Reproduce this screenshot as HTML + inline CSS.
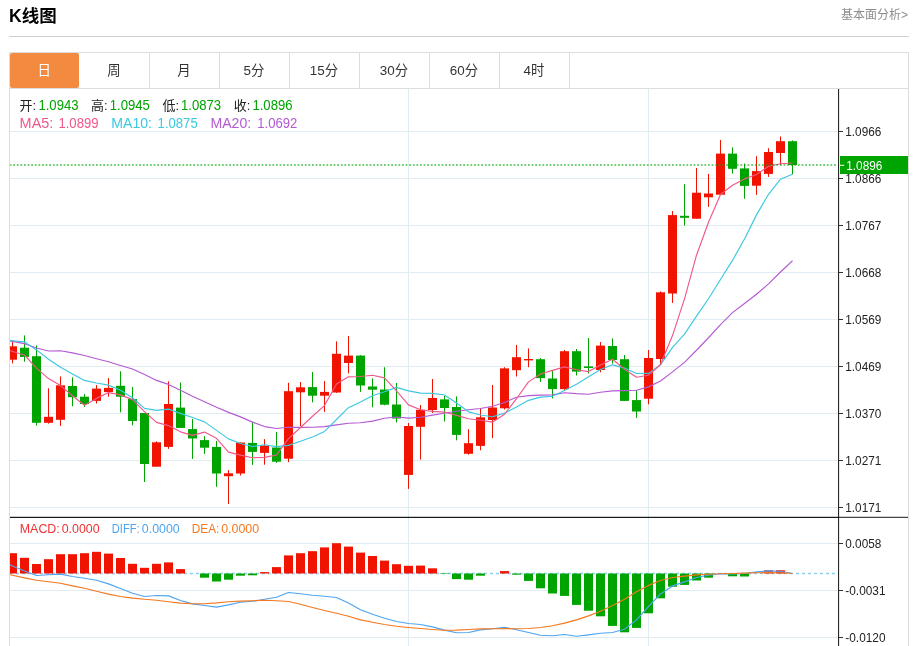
<!DOCTYPE html>
<html lang="zh-CN"><head><meta charset="utf-8"><title>K线图</title>
<style>
html,body{margin:0;padding:0;background:#fff;}
body{width:914px;height:646px;position:relative;overflow:hidden;font-family:"Liberation Sans","Noto Sans CJK SC",sans-serif;color:#333;}
.title{position:absolute;left:9px;top:4px;font-size:17.5px;font-weight:bold;color:#000;line-height:24px;}
.more{position:absolute;right:6px;top:7px;font-size:12px;color:#8c8c8c;line-height:16px;}
.hr{position:absolute;left:9px;top:36px;width:900px;height:1px;background:#d0d0d0;}
.tabs{position:absolute;left:9px;top:52px;width:898px;height:35px;border:1px solid #ddd;box-sizing:content-box;}
.tab{position:absolute;top:0;width:68px;padding-right:1px;height:35px;border-right:1px solid #ddd;text-align:center;line-height:36px;font-size:13.4px;color:#333;}
.tab.on{background:#f28b3f;color:#fff;border-right:0;width:68.3px;border-radius:2px;}
</style></head><body>
<div class="title">K线图</div>
<div class="more">基本面分析&gt;</div>
<div class="hr"></div>
<svg width="914" height="646" viewBox="0 0 914 646" style="position:absolute;left:0;top:0" font-family="'Liberation Sans','Noto Sans CJK SC',sans-serif">
<defs><clipPath id="cp"><rect x="10" y="88" width="829" height="558"/></clipPath></defs>
<rect x="10" y="131" width="829" height="1" fill="#e1ebf2"/>
<rect x="10" y="178" width="829" height="1" fill="#e1ebf2"/>
<rect x="10" y="225" width="829" height="1" fill="#e1ebf2"/>
<rect x="10" y="272" width="829" height="1" fill="#e1ebf2"/>
<rect x="10" y="319" width="829" height="1" fill="#e1ebf2"/>
<rect x="10" y="366" width="829" height="1" fill="#e1ebf2"/>
<rect x="10" y="413" width="829" height="1" fill="#e1ebf2"/>
<rect x="10" y="460" width="829" height="1" fill="#e1ebf2"/>
<rect x="10" y="507" width="829" height="1" fill="#e1ebf2"/>
<rect x="10" y="543" width="829" height="1" fill="#e1ebf2"/>
<rect x="10" y="590" width="829" height="1" fill="#e1ebf2"/>
<rect x="10" y="637" width="829" height="1" fill="#e1ebf2"/>
<rect x="408" y="88" width="1" height="558" fill="#e1ebf2"/>
<rect x="648" y="88" width="1" height="558" fill="#e1ebf2"/>
<rect x="9" y="88" width="1" height="558" fill="#ddd"/>
<rect x="908" y="88" width="1" height="558" fill="#ddd"/>
<line x1="10" y1="573.5" x2="836" y2="573.5" stroke="#8ccff0" stroke-width="1.3" stroke-dasharray="3 3"/>
<g clip-path="url(#cp)">
<rect x="8" y="553.2" width="9" height="20.3" fill="#f01400"/>
<rect x="20" y="557.8" width="9" height="15.7" fill="#f01400"/>
<rect x="32" y="564" width="9" height="9.5" fill="#f01400"/>
<rect x="44" y="559.2" width="9" height="14.3" fill="#f01400"/>
<rect x="56" y="554.2" width="9" height="19.3" fill="#f01400"/>
<rect x="68" y="554.2" width="9" height="19.3" fill="#f01400"/>
<rect x="80" y="553.2" width="9" height="20.3" fill="#f01400"/>
<rect x="92" y="551.8" width="9" height="21.7" fill="#f01400"/>
<rect x="104" y="553.6" width="9" height="19.9" fill="#f01400"/>
<rect x="116" y="558" width="9" height="15.5" fill="#f01400"/>
<rect x="128" y="563.8" width="9" height="9.7" fill="#f01400"/>
<rect x="140" y="567.8" width="9" height="5.7" fill="#f01400"/>
<rect x="152" y="563.8" width="9" height="9.7" fill="#f01400"/>
<rect x="164" y="562.4" width="9" height="11.1" fill="#f01400"/>
<rect x="176" y="569.1" width="9" height="4.4" fill="#f01400"/>
<rect x="200" y="573.5" width="9" height="4.2" fill="#00a400"/>
<rect x="212" y="573.5" width="9" height="8" fill="#00a400"/>
<rect x="224" y="573.5" width="9" height="6.2" fill="#00a400"/>
<rect x="236" y="573.5" width="9" height="2.2" fill="#00a400"/>
<rect x="248" y="573.5" width="9" height="1.8" fill="#00a400"/>
<rect x="260" y="572.1" width="9" height="1.4" fill="#f01400"/>
<rect x="272" y="567.1" width="9" height="6.4" fill="#f01400"/>
<rect x="284" y="555.4" width="9" height="18.1" fill="#f01400"/>
<rect x="296" y="553.2" width="9" height="20.3" fill="#f01400"/>
<rect x="308" y="551.2" width="9" height="22.3" fill="#f01400"/>
<rect x="320" y="547.4" width="9" height="26.1" fill="#f01400"/>
<rect x="332" y="543.2" width="9" height="30.3" fill="#f01400"/>
<rect x="344" y="546.6" width="9" height="26.9" fill="#f01400"/>
<rect x="356" y="552.6" width="9" height="20.9" fill="#f01400"/>
<rect x="368" y="556" width="9" height="17.5" fill="#f01400"/>
<rect x="380" y="560.6" width="9" height="12.9" fill="#f01400"/>
<rect x="392" y="564.2" width="9" height="9.3" fill="#f01400"/>
<rect x="404" y="565.8" width="9" height="7.7" fill="#f01400"/>
<rect x="416" y="565.6" width="9" height="7.9" fill="#f01400"/>
<rect x="428" y="568.3" width="9" height="5.2" fill="#f01400"/>
<rect x="440" y="573.5" width="9" height="0.5" fill="#00a400"/>
<rect x="452" y="573.5" width="9" height="5.6" fill="#00a400"/>
<rect x="464" y="573.5" width="9" height="6.2" fill="#00a400"/>
<rect x="476" y="573.5" width="9" height="2.2" fill="#00a400"/>
<rect x="500" y="571.1" width="9" height="2.4" fill="#f01400"/>
<rect x="512" y="573.5" width="9" height="1.2" fill="#00a400"/>
<rect x="524" y="573.5" width="9" height="7.4" fill="#00a400"/>
<rect x="536" y="573.5" width="9" height="14.8" fill="#00a400"/>
<rect x="548" y="573.5" width="9" height="20" fill="#00a400"/>
<rect x="560" y="573.5" width="9" height="22.4" fill="#00a400"/>
<rect x="572" y="573.5" width="9" height="31.4" fill="#00a400"/>
<rect x="584" y="573.5" width="9" height="37.2" fill="#00a400"/>
<rect x="596" y="573.5" width="9" height="42.8" fill="#00a400"/>
<rect x="608" y="573.5" width="9" height="52.4" fill="#00a400"/>
<rect x="620" y="573.5" width="9" height="58.8" fill="#00a400"/>
<rect x="632" y="573.5" width="9" height="54.4" fill="#00a400"/>
<rect x="644" y="573.5" width="9" height="39.8" fill="#00a400"/>
<rect x="656" y="573.5" width="9" height="24.8" fill="#00a400"/>
<rect x="668" y="573.5" width="9" height="13.2" fill="#00a400"/>
<rect x="680" y="573.5" width="9" height="11.4" fill="#00a400"/>
<rect x="692" y="573.5" width="9" height="7" fill="#00a400"/>
<rect x="704" y="573.5" width="9" height="4.2" fill="#00a400"/>
<rect x="728" y="573.5" width="9" height="2.8" fill="#00a400"/>
<rect x="740" y="573.5" width="9" height="3" fill="#00a400"/>
<rect x="764" y="570.3" width="9" height="3.2" fill="#f01400"/>
<rect x="776" y="570.3" width="9" height="3.2" fill="#f01400"/>
<path d="M0.5 561 L12.5 566 L24.5 571 L36.5 575.5 L48.5 574.7 L60.5 574.1 L72.5 576.5 L84.5 578.3 L96.5 580.3 L108.5 583.9 L120.5 588.5 L132.5 593.3 L144.5 596.5 L156.5 595.5 L168.5 595.9 L180.5 600.5 L192.5 603.9 L204.5 605.5 L216.5 607.1 L228.5 604.9 L240.5 602.3 L252.5 601.3 L264.5 599.3 L276.5 597.3 L288.5 592.5 L300.5 593.7 L312.5 595.3 L324.5 596.3 L336.5 597.5 L348.5 603.1 L360.5 609.7 L372.5 614.3 L384.5 618.3 L396.5 621.5 L408.5 623.5 L420.5 624.5 L432.5 626.9 L444.5 630.1 L456.5 632.7 L468.5 632.5 L480.5 629.9 L492.5 628.7 L504.5 627.3 L516.5 629.7 L528.5 632.5 L540.5 635.3 L552.5 635.7 L564.5 634.5 L576.5 636.3 L588.5 634.9 L600.5 633.3 L612.5 632.5 L624.5 629.3 L636.5 619.9 L648.5 606.5 L660.5 593.9 L672.5 585.9 L684.5 581.9 L696.5 577.5 L708.5 575.3 L720.5 573.7 L732.5 573.9 L744.5 573.5 L756.5 571.9 L768.5 570.9 L780.5 571.3 L792.5 573.5" fill="none" stroke="#4ea5f0" stroke-width="1.15" stroke-linejoin="round"/>
<path d="M0.5 572.7 L12.5 575.3 L24.5 577.9 L36.5 580.3 L48.5 581.7 L60.5 583.3 L72.5 585.9 L84.5 588.3 L96.5 591.3 L108.5 594.1 L120.5 596.5 L132.5 598.1 L144.5 599.3 L156.5 600.3 L168.5 601.7 L180.5 603.1 L192.5 603.7 L204.5 603.7 L216.5 602.9 L228.5 601.7 L240.5 601.1 L252.5 600.7 L264.5 600.3 L276.5 600.7 L288.5 601.5 L300.5 604.3 L312.5 607.5 L324.5 610.5 L336.5 613.3 L348.5 616.3 L360.5 619.9 L372.5 622.3 L384.5 624.5 L396.5 626.3 L408.5 627.5 L420.5 628.5 L432.5 629.5 L444.5 630.3 L456.5 630.1 L468.5 629.5 L480.5 628.9 L492.5 628.7 L504.5 628.5 L516.5 628.7 L528.5 628.5 L540.5 627.5 L552.5 625.7 L564.5 623.1 L576.5 619.9 L588.5 615.9 L600.5 611.2 L612.5 605.6 L624.5 599.2 L636.5 591.8 L648.5 585.4 L660.5 580.5 L672.5 577.5 L684.5 576.1 L696.5 574.9 L708.5 574.3 L720.5 573.7 L732.5 573.5 L744.5 573.1 L756.5 572.7 L768.5 572.5 L780.5 572.7 L792.5 573.5" fill="none" stroke="#f5781e" stroke-width="1.15" stroke-linejoin="round"/>
<rect x="12" y="340.7" width="1" height="22.7" fill="#f01400"/>
<rect x="8" y="346.3" width="9" height="13.4" fill="#f01400"/>
<rect x="24" y="335.4" width="1" height="26.3" fill="#00a400"/>
<rect x="20" y="347.7" width="9" height="9.2" fill="#00a400"/>
<rect x="36" y="345.4" width="1" height="80.2" fill="#00a400"/>
<rect x="32" y="356.2" width="9" height="66.6" fill="#00a400"/>
<rect x="48" y="388.3" width="1" height="35.3" fill="#f01400"/>
<rect x="44" y="416.8" width="9" height="6" fill="#f01400"/>
<rect x="60" y="376.4" width="1" height="49.5" fill="#f01400"/>
<rect x="56" y="385.3" width="9" height="34.5" fill="#f01400"/>
<rect x="72" y="377.4" width="1" height="28.9" fill="#00a400"/>
<rect x="68" y="386" width="9" height="11.2" fill="#00a400"/>
<rect x="84" y="394" width="1" height="13" fill="#00a400"/>
<rect x="80" y="396.7" width="9" height="7.3" fill="#00a400"/>
<rect x="96" y="385.1" width="1" height="18.4" fill="#f01400"/>
<rect x="92" y="388.6" width="9" height="12.3" fill="#f01400"/>
<rect x="108" y="378.1" width="1" height="18.6" fill="#f01400"/>
<rect x="104" y="387.9" width="9" height="4.2" fill="#f01400"/>
<rect x="120" y="371.3" width="1" height="41" fill="#00a400"/>
<rect x="116" y="385.8" width="9" height="10.9" fill="#00a400"/>
<rect x="132" y="387" width="1" height="38.3" fill="#00a400"/>
<rect x="128" y="399" width="9" height="22" fill="#00a400"/>
<rect x="144" y="413" width="1" height="69" fill="#00a400"/>
<rect x="140" y="413" width="9" height="51" fill="#00a400"/>
<rect x="156" y="441.3" width="1" height="25.4" fill="#f01400"/>
<rect x="152" y="442.3" width="9" height="24.4" fill="#f01400"/>
<rect x="168" y="381.4" width="1" height="67.5" fill="#f01400"/>
<rect x="164" y="404" width="9" height="42.9" fill="#f01400"/>
<rect x="180" y="382.6" width="1" height="45.3" fill="#00a400"/>
<rect x="176" y="407.6" width="9" height="20.3" fill="#00a400"/>
<rect x="192" y="418.9" width="1" height="40" fill="#00a400"/>
<rect x="188" y="429.1" width="9" height="9.4" fill="#00a400"/>
<rect x="204" y="436.1" width="1" height="17.8" fill="#00a400"/>
<rect x="200" y="440.1" width="9" height="7.6" fill="#00a400"/>
<rect x="216" y="440.9" width="1" height="45.9" fill="#00a400"/>
<rect x="212" y="446.9" width="9" height="26.6" fill="#00a400"/>
<rect x="228" y="470.1" width="1" height="33.9" fill="#f01400"/>
<rect x="224" y="473.3" width="9" height="2.9" fill="#f01400"/>
<rect x="240" y="442.5" width="1" height="33" fill="#f01400"/>
<rect x="236" y="442.5" width="9" height="31" fill="#f01400"/>
<rect x="252" y="421.9" width="1" height="43" fill="#00a400"/>
<rect x="248" y="442.9" width="9" height="9" fill="#00a400"/>
<rect x="264" y="439.1" width="1" height="25.6" fill="#f01400"/>
<rect x="260" y="445.5" width="9" height="7.4" fill="#f01400"/>
<rect x="276" y="431.9" width="1" height="31" fill="#00a400"/>
<rect x="272" y="447.5" width="9" height="14.2" fill="#00a400"/>
<rect x="288" y="382.8" width="1" height="79.3" fill="#f01400"/>
<rect x="284" y="391.2" width="9" height="67.5" fill="#f01400"/>
<rect x="300" y="382" width="1" height="44" fill="#f01400"/>
<rect x="296" y="387.3" width="9" height="5" fill="#f01400"/>
<rect x="312" y="372" width="1" height="30.3" fill="#00a400"/>
<rect x="308" y="387.1" width="9" height="8.6" fill="#00a400"/>
<rect x="324" y="381" width="1" height="30.9" fill="#f01400"/>
<rect x="320" y="391.9" width="9" height="3.8" fill="#f01400"/>
<rect x="336" y="341.4" width="1" height="51.5" fill="#f01400"/>
<rect x="332" y="353.8" width="9" height="38.7" fill="#f01400"/>
<rect x="348" y="336" width="1" height="37.4" fill="#f01400"/>
<rect x="344" y="355.6" width="9" height="7.4" fill="#f01400"/>
<rect x="360" y="355.2" width="1" height="36.7" fill="#00a400"/>
<rect x="356" y="355.6" width="9" height="29.9" fill="#00a400"/>
<rect x="372" y="378.4" width="1" height="28.9" fill="#00a400"/>
<rect x="368" y="386.5" width="9" height="3.2" fill="#00a400"/>
<rect x="384" y="367.2" width="1" height="38.1" fill="#00a400"/>
<rect x="380" y="389.5" width="9" height="15.2" fill="#00a400"/>
<rect x="396" y="382.9" width="1" height="39.6" fill="#00a400"/>
<rect x="392" y="404.5" width="9" height="14" fill="#00a400"/>
<rect x="408" y="423" width="1" height="65.9" fill="#f01400"/>
<rect x="404" y="426" width="9" height="48.9" fill="#f01400"/>
<rect x="420" y="405" width="1" height="54.6" fill="#f01400"/>
<rect x="416" y="409.8" width="9" height="17" fill="#f01400"/>
<rect x="432" y="379" width="1" height="34" fill="#f01400"/>
<rect x="428" y="398" width="9" height="12" fill="#f01400"/>
<rect x="444" y="396" width="1" height="25.5" fill="#00a400"/>
<rect x="440" y="399.4" width="9" height="8.6" fill="#00a400"/>
<rect x="456" y="396.4" width="1" height="43.9" fill="#00a400"/>
<rect x="452" y="407" width="9" height="27.9" fill="#00a400"/>
<rect x="468" y="429.2" width="1" height="25.5" fill="#f01400"/>
<rect x="464" y="443.2" width="9" height="10.6" fill="#f01400"/>
<rect x="480" y="408" width="1" height="42.3" fill="#f01400"/>
<rect x="476" y="417.3" width="9" height="28.6" fill="#f01400"/>
<rect x="492" y="385" width="1" height="53.1" fill="#f01400"/>
<rect x="488" y="407.5" width="9" height="12.5" fill="#f01400"/>
<rect x="504" y="367.2" width="1" height="42.3" fill="#f01400"/>
<rect x="500" y="368.4" width="9" height="39.9" fill="#f01400"/>
<rect x="516" y="345" width="1" height="31.5" fill="#f01400"/>
<rect x="512" y="357.2" width="9" height="13" fill="#f01400"/>
<rect x="528" y="348.4" width="1" height="18.8" fill="#f01400"/>
<rect x="524" y="359" width="9" height="1.4" fill="#f01400"/>
<rect x="540" y="358" width="1" height="23.9" fill="#00a400"/>
<rect x="536" y="359.2" width="9" height="18.9" fill="#00a400"/>
<rect x="552" y="370" width="1" height="28.4" fill="#00a400"/>
<rect x="548" y="378.5" width="9" height="10.6" fill="#00a400"/>
<rect x="564" y="350" width="1" height="39.9" fill="#f01400"/>
<rect x="560" y="351.2" width="9" height="37.9" fill="#f01400"/>
<rect x="576" y="349" width="1" height="26.5" fill="#00a400"/>
<rect x="572" y="351.2" width="9" height="20.4" fill="#00a400"/>
<rect x="588" y="338" width="1" height="35.5" fill="#00a400"/>
<rect x="584" y="366.4" width="9" height="1.6" fill="#00a400"/>
<rect x="600" y="342" width="1" height="30.3" fill="#f01400"/>
<rect x="596" y="345.6" width="9" height="24.4" fill="#f01400"/>
<rect x="612" y="338.4" width="1" height="25.2" fill="#00a400"/>
<rect x="608" y="346" width="9" height="14" fill="#00a400"/>
<rect x="624" y="355" width="1" height="45.9" fill="#00a400"/>
<rect x="620" y="359.2" width="9" height="41.7" fill="#00a400"/>
<rect x="636" y="390" width="1" height="27.9" fill="#00a400"/>
<rect x="632" y="400.1" width="9" height="11.4" fill="#00a400"/>
<rect x="648" y="350" width="1" height="54.3" fill="#f01400"/>
<rect x="644" y="358" width="9" height="40.7" fill="#f01400"/>
<rect x="660" y="291.3" width="1" height="73.7" fill="#f01400"/>
<rect x="656" y="292.3" width="9" height="66.7" fill="#f01400"/>
<rect x="672" y="211.1" width="1" height="91.8" fill="#f01400"/>
<rect x="668" y="215.1" width="9" height="78.4" fill="#f01400"/>
<rect x="684" y="184.2" width="1" height="41.4" fill="#00a400"/>
<rect x="680" y="215.8" width="9" height="2" fill="#00a400"/>
<rect x="696" y="168" width="1" height="50.7" fill="#f01400"/>
<rect x="692" y="192.7" width="9" height="26" fill="#f01400"/>
<rect x="708" y="173.9" width="1" height="33" fill="#f01400"/>
<rect x="704" y="193.5" width="9" height="3.8" fill="#f01400"/>
<rect x="720" y="140" width="1" height="55.1" fill="#f01400"/>
<rect x="716" y="153.6" width="9" height="41.1" fill="#f01400"/>
<rect x="732" y="147.4" width="1" height="26.1" fill="#00a400"/>
<rect x="728" y="153.6" width="9" height="15.2" fill="#00a400"/>
<rect x="744" y="163.6" width="1" height="35.1" fill="#00a400"/>
<rect x="740" y="168.4" width="9" height="17.5" fill="#00a400"/>
<rect x="756" y="156.2" width="1" height="38.7" fill="#f01400"/>
<rect x="752" y="171.1" width="9" height="14.6" fill="#f01400"/>
<rect x="768" y="148.2" width="1" height="28.7" fill="#f01400"/>
<rect x="764" y="152" width="9" height="21.9" fill="#f01400"/>
<rect x="780" y="136.4" width="1" height="28.6" fill="#f01400"/>
<rect x="776" y="141.2" width="9" height="11.8" fill="#f01400"/>
<rect x="792" y="140.4" width="1" height="33.9" fill="#00a400"/>
<rect x="788" y="141.2" width="9" height="23.8" fill="#00a400"/>
<path d="M0.5 339.2 L12.5 341.4 L24.5 343.6 L36.5 348 L48.5 351 L60.5 350.8 L72.5 352.9 L84.5 355.5 L96.5 358.7 L108.5 361.7 L120.5 365.5 L132.5 369 L144.5 374.6 L156.5 380.4 L168.5 384.4 L180.5 390.2 L192.5 396.2 L204.5 401.8 L216.5 407.2 L228.5 412.4 L240.5 416.86 L252.5 422.14 L264.5 426.57 L276.5 428.51 L288.5 427.24 L300.5 427.34 L312.5 427.26 L324.5 426.66 L336.5 424.91 L348.5 423.3 L360.5 422.74 L372.5 421.18 L384.5 418.21 L396.5 417.02 L408.5 418.12 L420.5 417.21 L432.5 415.19 L444.5 413.21 L456.5 411.27 L468.5 409.77 L480.5 408.51 L492.5 406.29 L504.5 402.44 L516.5 397.21 L528.5 395.6 L540.5 395.14 L552.5 394.81 L564.5 392.77 L576.5 393.67 L588.5 394.28 L600.5 392.29 L612.5 390.81 L624.5 390.62 L636.5 390.26 L648.5 386.87 L660.5 380.99 L672.5 371.84 L684.5 362.33 L696.5 350.23 L708.5 337.74 L720.5 324.56 L732.5 312.62 L744.5 303.5 L756.5 294.19 L768.5 283.84 L780.5 272 L792.5 260.79" fill="none" stroke="#b45ad2" stroke-width="1.15" stroke-linejoin="round"/>
<path d="M0.5 339.5 L12.5 340.7 L24.5 341.9 L36.5 349.9 L48.5 359.3 L60.5 367.3 L72.5 373.9 L84.5 380.4 L96.5 383 L108.5 385.1 L120.5 390.25 L132.5 397.72 L144.5 408.43 L156.5 410.38 L168.5 409.1 L180.5 413.36 L192.5 417.49 L204.5 421.86 L216.5 430.35 L228.5 438.89 L240.5 443.47 L252.5 446.56 L264.5 444.71 L276.5 446.65 L288.5 445.37 L300.5 441.31 L312.5 437.03 L324.5 431.45 L336.5 419.48 L348.5 407.71 L360.5 402.01 L372.5 395.79 L384.5 391.71 L396.5 387.39 L408.5 390.87 L420.5 393.12 L432.5 393.35 L444.5 394.96 L456.5 403.07 L468.5 411.83 L480.5 415.01 L492.5 416.79 L504.5 413.16 L516.5 407.03 L528.5 400.33 L540.5 397.16 L552.5 396.27 L564.5 390.59 L576.5 384.26 L588.5 376.74 L600.5 369.57 L612.5 364.82 L624.5 368.07 L636.5 373.5 L648.5 373.4 L660.5 364.82 L672.5 347.42 L684.5 334.08 L696.5 316.19 L708.5 298.74 L720.5 279.54 L732.5 260.42 L744.5 238.92 L756.5 214.88 L768.5 194.28 L780.5 179.17 L792.5 174.16" fill="none" stroke="#3cc8e0" stroke-width="1.15" stroke-linejoin="round"/>
<path d="M0.5 348 L12.5 351.5 L24.5 355 L36.5 368.1 L48.5 378.6 L60.5 385.62 L72.5 395.8 L84.5 405.22 L96.5 398.38 L108.5 392.6 L120.5 394.88 L132.5 399.64 L144.5 411.64 L156.5 422.38 L168.5 425.6 L180.5 431.84 L192.5 435.34 L204.5 432.08 L216.5 438.32 L228.5 452.18 L240.5 455.1 L252.5 457.78 L264.5 457.34 L276.5 454.98 L288.5 438.56 L300.5 427.52 L312.5 416.28 L324.5 405.56 L336.5 383.98 L348.5 376.86 L360.5 376.5 L372.5 375.3 L384.5 377.86 L396.5 390.8 L408.5 404.88 L420.5 409.74 L432.5 411.4 L444.5 412.06 L456.5 415.34 L468.5 418.78 L480.5 420.28 L492.5 422.18 L504.5 414.26 L516.5 398.72 L528.5 381.88 L540.5 374.04 L552.5 370.36 L564.5 366.92 L576.5 369.8 L588.5 371.6 L600.5 365.1 L612.5 359.28 L624.5 369.22 L636.5 377.2 L648.5 375.2 L660.5 364.54 L672.5 335.56 L684.5 298.94 L696.5 255.18 L708.5 222.28 L720.5 194.54 L732.5 185.28 L744.5 178.9 L756.5 174.58 L768.5 166.28 L780.5 163.8 L792.5 163.04" fill="none" stroke="#f0588c" stroke-width="1.15" stroke-linejoin="round"/>
</g>
<line x1="10" y1="165" x2="836.6" y2="165" stroke="#00a400" stroke-opacity="0.72" stroke-width="1.5" stroke-dasharray="1.8 1.8" stroke-dashoffset="0.4"/>
<rect x="838" y="88" width="1.1" height="558" fill="#262626"/>
<rect x="10" y="516.8" width="829" height="1.1" fill="#000"/>
<rect x="839" y="516.8" width="69" height="1" fill="#1a1a1a"/>
<rect x="839" y="131" width="4" height="1" fill="#333"/>
<text x="845.3" y="136.1" font-size="12.4" fill="#222" textLength="36" lengthAdjust="spacingAndGlyphs">1.0966</text>
<rect x="839" y="178" width="4" height="1" fill="#333"/>
<text x="845.3" y="183.1" font-size="12.4" fill="#222" textLength="36" lengthAdjust="spacingAndGlyphs">1.0866</text>
<rect x="839" y="225" width="4" height="1" fill="#333"/>
<text x="845.3" y="230.1" font-size="12.4" fill="#222" textLength="36" lengthAdjust="spacingAndGlyphs">1.0767</text>
<rect x="839" y="272" width="4" height="1" fill="#333"/>
<text x="845.3" y="277.1" font-size="12.4" fill="#222" textLength="36" lengthAdjust="spacingAndGlyphs">1.0668</text>
<rect x="839" y="319" width="4" height="1" fill="#333"/>
<text x="845.3" y="324.1" font-size="12.4" fill="#222" textLength="36" lengthAdjust="spacingAndGlyphs">1.0569</text>
<rect x="839" y="366" width="4" height="1" fill="#333"/>
<text x="845.3" y="371.1" font-size="12.4" fill="#222" textLength="36" lengthAdjust="spacingAndGlyphs">1.0469</text>
<rect x="839" y="413" width="4" height="1" fill="#333"/>
<text x="845.3" y="418.1" font-size="12.4" fill="#222" textLength="36" lengthAdjust="spacingAndGlyphs">1.0370</text>
<rect x="839" y="460" width="4" height="1" fill="#333"/>
<text x="845.3" y="465.1" font-size="12.4" fill="#222" textLength="36" lengthAdjust="spacingAndGlyphs">1.0271</text>
<rect x="839" y="507" width="4" height="1" fill="#333"/>
<text x="845.3" y="512.1" font-size="12.4" fill="#222" textLength="36" lengthAdjust="spacingAndGlyphs">1.0171</text>
<rect x="839" y="543" width="4" height="1" fill="#333"/>
<text x="845.3" y="548.1" font-size="12.4" fill="#222" textLength="36" lengthAdjust="spacingAndGlyphs">0.0058</text>
<rect x="839" y="590" width="4" height="1" fill="#333"/>
<text x="845.3" y="595.1" font-size="12.4" fill="#222" textLength="40.2" lengthAdjust="spacingAndGlyphs">-0.0031</text>
<rect x="839" y="637" width="4" height="1" fill="#333"/>
<text x="845.3" y="642.1" font-size="12.4" fill="#222" textLength="40.2" lengthAdjust="spacingAndGlyphs">-0.0120</text>
<rect x="840" y="156" width="68" height="18" fill="#00a400"/>
<rect x="840" y="164.8" width="4.2" height="1" fill="#fff"/>
<text x="846.3" y="169.8" font-size="12.4" fill="#fff" textLength="36" lengthAdjust="spacingAndGlyphs">1.0896</text>
<text transform="translate(19.5 110) scale(1.0 1)" font-size="13" fill="#222">开:</text>
<text transform="translate(38.4 110) scale(0.925 1)" font-size="14.2" fill="#00a400">1.0943</text>
<text transform="translate(91.1 110) scale(1.0 1)" font-size="13" fill="#222">高:</text>
<text transform="translate(109.7 110) scale(0.925 1)" font-size="14.2" fill="#00a400">1.0945</text>
<text transform="translate(162.4 110) scale(1.0 1)" font-size="13" fill="#222">低:</text>
<text transform="translate(181 110) scale(0.925 1)" font-size="14.2" fill="#00a400">1.0873</text>
<text transform="translate(233.8 110) scale(1.0 1)" font-size="13" fill="#222">收:</text>
<text transform="translate(252.4 110) scale(0.925 1)" font-size="14.2" fill="#00a400">1.0896</text>
<text transform="translate(19.6 128) scale(1.02 1)" font-size="14.2" fill="#f0588c">MA5:</text>
<text transform="translate(58.4 128) scale(0.925 1)" font-size="14.2" fill="#f0588c">1.0899</text>
<text transform="translate(111.2 128) scale(0.995 1)" font-size="14.2" fill="#3cc8e0">MA10:</text>
<text transform="translate(157.6 128) scale(0.925 1)" font-size="14.2" fill="#3cc8e0">1.0875</text>
<text transform="translate(210.4 128) scale(0.995 1)" font-size="14.2" fill="#b45ad2">MA20:</text>
<text transform="translate(257.2 128) scale(0.925 1)" font-size="14.2" fill="#b45ad2">1.0692</text>
<text transform="translate(19.8 533) scale(1.0 1)" font-size="12.4" fill="#f23030">MACD:</text>
<text transform="translate(61.7 533) scale(1.0 1)" font-size="12.4" fill="#f23030">0.0000</text>
<text transform="translate(111.8 533) scale(0.9 1)" font-size="12.4" fill="#4ea5f0">DIFF:</text>
<text transform="translate(141.8 533) scale(1.0 1)" font-size="12.4" fill="#4ea5f0">0.0000</text>
<text transform="translate(191.8 533) scale(0.95 1)" font-size="12.4" fill="#f5781e">DEA:</text>
<text transform="translate(221.2 533) scale(1.0 1)" font-size="12.4" fill="#f5781e">0.0000</text>
</svg>
<div class="tabs"><div class="tab on" style="left:0px">日</div><div class="tab" style="left:70px">周</div><div class="tab" style="left:140px">月</div><div class="tab" style="left:210px">5分</div><div class="tab" style="left:280px">15分</div><div class="tab" style="left:350px">30分</div><div class="tab" style="left:420px">60分</div><div class="tab" style="left:490px">4时</div></div>
</body></html>
